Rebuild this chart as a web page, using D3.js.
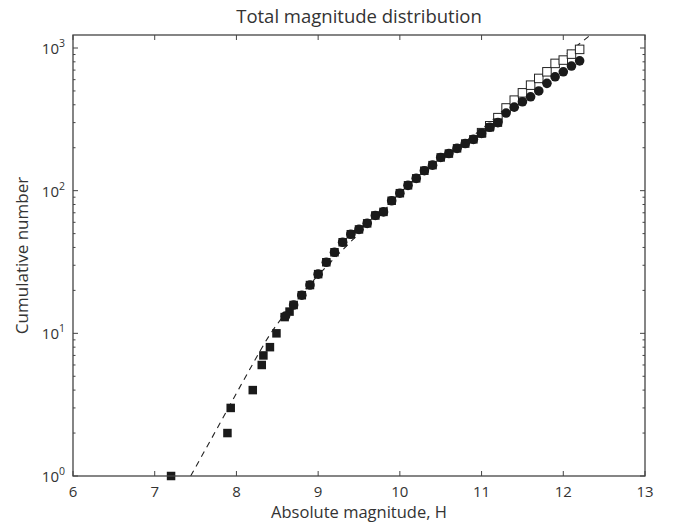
<!DOCTYPE html>
<html><head><meta charset="utf-8">
<script src="https://cdn.jsdelivr.net/npm/d3@7"></script>
<style>
body{margin:0;background:#fff;}
text{font-family:"Open Sans",sans-serif;fill:#333;}
</style></head>
<body><svg id="c" width="680" height="523"></svg>
<script>
// Filled squares
const sqH = [7.2,7.89,7.93,8.2,8.31,8.33,8.41,8.49,8.59,8.65,8.7,8.8,8.9,9.0,9.1,9.2,9.3,9.4,9.5,9.6,9.7,9.8,9.9,10.0,10.1,10.2,10.3,10.4,10.5,10.6,10.7,10.8,10.9,11.0,11.1,11.2];
const sqN = [1,2,3,4,6,7,8,10,13,14.2,15.8,18.5,21.8,26,31.5,37,43.5,49.5,53.5,59,67,71,85,96,109,122,138,151,171,182,198,214,229,252,278,300];
// Filled circles
const ciH = [8.6,8.7,8.8,8.9,9.0,9.1,9.2,9.3,9.4,9.5,9.6,9.7,9.8,9.9,10.0,10.1,10.2,10.3,10.4,10.5,10.6,10.7,10.8,10.9,11.0,11.1,11.2,11.3,11.4,11.5,11.6,11.7,11.8,11.9,12.0,12.1,12.2];
const ciN = [13.2,15.8,18.5,21.8,26,31.5,37,43.5,49.5,53.5,59,67,71,85,96,109,122,138,151,171,182,198,214,229,252,278,300,350,385,420,455,500,565,628,681,747,813];
// Open squares
const opH = [11.0,11.1,11.2,11.3,11.4,11.5,11.6,11.7,11.8,11.9,12.0,12.1,12.2];
const opN = [255,285,325,380,431,485,549,612,681,780,823,906,978];
// Dashed model curve
const mdH = [7.44,7.8,8.0,8.2,8.4,8.6,8.8,9.0,9.25,9.5,9.75,10.0,10.25,10.5,10.75,11.0,11.25,11.5,11.75,12.0,12.25,12.5];
const mdN = [1,2.35,3.8,6.1,9.6,13.8,19,25.5,36,50,68,93,125,165,210,270,360,480,650,870,1130,1480];

const xTicks = [6,7,8,9,10,11,12,13];
const yTicks = [1,10,100,1000];

const L=73,R=645,T=35,B=476;
const svg=d3.select("#c");
const x=d3.scaleLinear().domain([6,13]).range([L,R]);
const y=d3.scaleLog().domain([1,Math.pow(10,(B-T)/((B-48)/3))]).range([B,T]);

svg.append("defs").append("clipPath").attr("id","clip").append("rect")
  .attr("x",L).attr("y",T).attr("width",R-L).attr("height",B-T);

const g=svg.append("g").attr("clip-path","url(#clip)");
g.append("path").datum(mdH.map((h,i)=>[h,mdN[i]]))
 .attr("d",d3.line().x(d=>x(d[0])).y(d=>y(d[1])).curve(d3.curveMonotoneX))
 .attr("fill","none").attr("stroke","#222").attr("stroke-width",1.1).attr("stroke-dasharray","6,5");

const s=8.5;
g.selectAll(".op").data(opH.map((h,i)=>[h,opN[i]])).enter().append("rect")
 .attr("x",d=>x(d[0])-s/2).attr("y",d=>y(d[1])-s/2).attr("width",s).attr("height",s)
 .attr("fill","#fff").attr("stroke","#222").attr("stroke-width",1);
svg.append("g").selectAll("rect").data(sqH.map((h,i)=>[h,sqN[i]])).enter().append("rect")
 .attr("x",d=>x(d[0])-s/2).attr("y",d=>y(d[1])-s/2).attr("width",s).attr("height",s)
 .attr("fill","#1a1a1a");
svg.append("g").selectAll("circle").data(ciH.map((h,i)=>[h,ciN[i]])).enter().append("circle")
 .attr("cx",d=>x(d[0])).attr("cy",d=>y(d[1])).attr("r",4.8).attr("fill","#1a1a1a");

svg.append("rect").attr("x",L).attr("y",T).attr("width",R-L).attr("height",B-T)
 .attr("fill","none").attr("stroke","#444").attr("stroke-width",1.3);

const ax=svg.append("g").attr("stroke","#444").attr("stroke-width",1);
xTicks.forEach(t=>{
  ax.append("line").attr("x1",x(t)).attr("x2",x(t)).attr("y1",B).attr("y2",B-5);
  ax.append("line").attr("x1",x(t)).attr("x2",x(t)).attr("y1",T).attr("y2",T+5);
});
const yd=y.domain();
for(let e=0;e<4;e++){
  for(let m=1;m<10;m++){
    const v=m*Math.pow(10,e);
    if(v<yd[0]||v>yd[1])continue;
    const len=m===1?5:2.5;
    ax.append("line").attr("x1",L).attr("x2",L+len).attr("y1",y(v)).attr("y2",y(v));
    ax.append("line").attr("x1",R).attr("x2",R-len).attr("y1",y(v)).attr("y2",y(v));
  }
}
svg.append("g").selectAll("text").data(xTicks).enter().append("text")
 .attr("x",d=>x(d)).attr("y",B+21).attr("text-anchor","middle").attr("font-size",15).text(d=>d);
const yl=svg.append("g");
yTicks.forEach(v=>{
  const e=Math.round(Math.log10(v));
  const t=yl.append("text").attr("x",L-8).attr("y",y(v)+6).attr("text-anchor","end").attr("font-size",15);
  t.append("tspan").text("10");
  t.append("tspan").attr("dy",-7).attr("font-size",10.5).text(e);
});
svg.append("text").attr("x",(L+R)/2).attr("y",23).attr("text-anchor","middle").attr("font-size",18.5).text("Total magnitude distribution");
svg.append("text").attr("x",(L+R)/2).attr("y",518).attr("text-anchor","middle").attr("font-size",16.5).text("Absolute magnitude, H");
svg.append("text").attr("transform",`translate(28,${(T+B)/2}) rotate(-90)`).attr("text-anchor","middle").attr("font-size",17).text("Cumulative number");
</script></body></html>
